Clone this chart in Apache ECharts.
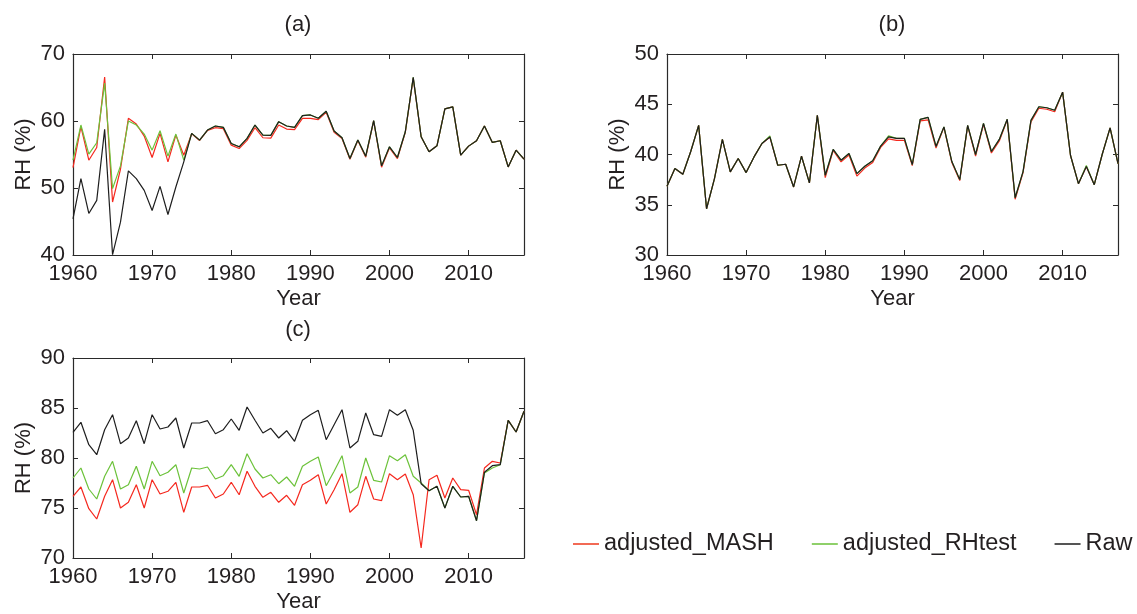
<!DOCTYPE html>
<html><head><meta charset="utf-8">
<script src="https://cdn.jsdelivr.net/npm/echarts@6/dist/echarts.min.js"></script>
<style>html,body{margin:0;padding:0;background:#fff}#c{width:1137px;height:614px}</style>
</head><body><div id="c"></div>
<script>
const years = [1960,1961,1962,1963,1964,1965,1966,1967,1968,1969,1970,1971,1972,1973,1974,1975,1976,1977,1978,1979,1980,1981,1982,1983,1984,1985,1986,1987,1988,1989,1990,1991,1992,1993,1994,1995,1996,1997,1998,1999,2000,2001,2002,2003,2004,2005,2006,2007,2008,2009,2010,2011,2012,2013,2014,2015,2016,2017];
const seriesNames = ['adjusted_MASH','adjusted_RHtest','Raw'];
const panelTitles = ['(a)','(b)','(c)'];

// Panel (a)
const masA = [53.05,59.15,54.15,56.05,66.55,47.9,52.8,60.4,59.55,57.75, 54.55,58.15,53.9,57.9,54.9,58.1,57.1,58.6,59.0,58.85, 56.4,55.9,57.1,59.0,57.5,57.45,59.4,58.8,58.7,60.4, 60.4,60.2,61.3,58.3,57.4,54.3,57.1,54.6,60.0,53.1, 56.0,54.4,58.3,66.4,57.65,55.4,56.3,61.8,62.1,54.9, 56.25,57.05,59.25,56.8,57.05,53.15,55.65,54.3];
const rhtA = [54.15,59.4,55.05,56.75,65.65,49.9,53.3,60.0,59.4,58.05, 55.65,58.55,54.75,58.05,54.15,58.15,57.15,58.65,59.25,59.05, 56.65,56.15,57.4,59.4,57.9,57.85,59.9,59.25,59.05,60.8, 60.9,60.4,61.45,58.5,57.5,54.4,57.15,54.75,60.05,53.3, 56.15,54.55,58.4,66.5,57.65,55.4,56.3,61.8,62.1,54.9, 56.25,57.05,59.25,56.8,57.05,53.15,55.65,54.3];
const rawA = [45.4,51.4,46.2,48.15,58.75,40.05,44.9,52.55,51.4,49.65, 46.65,50.25,46.05,50.15,53.9,58.15,57.15,58.65,59.25,59.05, 56.65,56.15,57.4,59.4,57.9,57.85,59.9,59.25,59.05,60.8, 60.9,60.4,61.45,58.5,57.5,54.4,57.15,54.75,60.05,53.3, 56.15,54.55,58.4,66.5,57.65,55.4,56.3,61.8,62.1,54.9, 56.25,57.05,59.25,56.8,57.05,53.15,55.65,54.3];

// Panel (b)
const masB = [36.84,38.6,38.04,40.3,42.9,34.6,37.6,41.5,38.27,39.6, 38.2,39.76,41.1,41.75,38.93,39.03,36.77,39.83,37.17,43.9, 37.7,40.4,39.27,39.95,37.85,38.65,39.2,40.7,41.55,41.4, 41.4,38.9,43.35,43.45,40.65,42.7,39.2,37.4,42.85,39.85, 43.0,40.15,41.35,43.45,35.55,38.2,43.25,44.6,44.5,44.25, 46.2,39.9,37.1,38.8,37.0,40.0,42.65,39.1];
const rhtB = [36.84,38.6,38.04,40.3,42.9,34.6,37.6,41.5,38.27,39.6, 38.2,39.76,41.1,41.85,38.93,39.03,36.77,39.83,37.17,43.9, 37.94,40.5,39.43,40.1,38.1,38.83,39.37,40.83,41.85,41.6, 41.6,39.0,43.5,43.7,40.8,42.75,39.3,37.5,42.9,40.0, 43.1,40.3,41.5,43.5,35.7,38.3,43.4,44.75,44.65,44.4, 46.2,39.9,37.1,38.9,37.0,40.0,42.65,39.1];
const rawB = [36.84,38.6,38.04,40.3,42.9,34.6,37.6,41.5,38.27,39.6, 38.2,39.76,41.1,41.75,38.93,39.03,36.77,39.83,37.17,43.9, 37.94,40.5,39.43,40.1,38.1,38.83,39.37,40.83,41.75,41.6, 41.6,39.0,43.5,43.7,40.8,42.75,39.3,37.5,42.9,40.0, 43.1,40.3,41.5,43.5,35.7,38.3,43.4,44.75,44.65,44.4, 46.2,39.9,37.1,38.8,37.0,40.0,42.65,39.1];

// Panel (c)
const masC = [76.17,77.1,74.93,73.9,76.17,77.83,75.0,75.57,77.33,75.0, 77.83,76.4,76.67,77.57,74.57,77.1,77.1,77.27,76.0,76.4, 77.57,76.33,78.67,77.17,76.07,76.57,75.57,76.27,75.27,77.33, 77.77,78.33,75.4,76.83,78.43,74.57,75.33,78.17,75.9,75.73, 78.43,77.83,78.4,76.33,71.0,77.83,78.27,76.0,78.0,76.83, 76.77,74.33,79.0,79.67,79.5,83.77,82.6,84.67];
const rhtC = [78.0,79.0,76.9,75.9,78.17,79.67,76.9,77.33,79.17,76.9, 79.67,78.23,78.57,79.33,76.5,79.0,78.9,79.1,77.9,78.23, 79.33,78.17,80.43,78.9,78.0,78.33,77.43,78.1,77.17,79.17, 79.67,80.1,77.23,78.67,80.23,76.5,77.1,80.0,77.77,77.6, 80.23,79.73,80.33,78.17,77.5,76.73,77.17,75.0,77.17,76.1, 76.17,73.73,78.5,79.0,79.33,83.77,82.6,84.67];
const rawC = [82.57,83.57,81.33,80.33,82.83,84.33,81.43,82.0,83.73,81.43, 84.33,82.9,83.1,84.0,81.0,83.5,83.5,83.73,82.43,82.83, 83.9,82.77,85.1,83.77,82.5,82.97,82.0,82.73,81.67,83.77, 84.33,84.77,81.83,83.33,84.83,81.0,81.67,84.5,82.33,82.17, 84.83,84.27,84.83,82.77,77.43,76.73,77.17,75.0,77.17,76.1, 76.17,73.73,78.57,79.23,79.33,83.77,82.6,84.67];

const yRanges = [[40,70,10],[30,50,5],[70,90,5]];
const xRange = [1960,2017,10];

const panels = [[masA,rhtA,rawA],[masB,rhtB,rawB],[masC,rhtC,rawC]];
const colors = ['#f5281e','#6cc23a','#1e1e1e'];
const legendColors = ['#f26a55','#8fd06a','#555555'];
const grids = [
  {left:73, top:54, width:451, height:201},
  {left:667, top:54, width:451, height:201},
  {left:73, top:358, width:451, height:201}
];
const FONT = 'Liberation Sans, Arial, sans-serif';
const TXT = '#231f20';
const AX = '#2a2a2a';

const xAxis = [], yAxis = [], series = [];
grids.forEach((g,i)=>{
  const common = {
    axisLine:{show:true,onZero:false,lineStyle:{color:AX,width:1.2}},
    axisTick:{show:true,inside:true,length:5,lineStyle:{color:AX,width:1}},
    splitLine:{show:false}
  };
  xAxis.push(Object.assign({}, common, {
    gridIndex:i, type:'value', position:'bottom', min:xRange[0], max:xRange[1], interval:xRange[2],
    name:'Year', nameLocation:'middle', nameGap:33,
    nameTextStyle:{fontSize:22,fontFamily:FONT,color:TXT},
    axisLabel:{fontSize:22,fontFamily:FONT,color:TXT,margin:8,showMaxLabel:false,
      formatter:v=> (v%10===0? String(v):'')}
  }));
  xAxis.push(Object.assign({}, common, {
    gridIndex:i, type:'value', position:'top', min:xRange[0], max:xRange[1], interval:xRange[2],
    axisLabel:{show:false}
  }));
  const yr = yRanges[i];
  yAxis.push(Object.assign({}, common, {
    gridIndex:i, type:'value', position:'left', min:yr[0], max:yr[1], interval:yr[2],
    name:'RH (%)', nameLocation:'middle', nameGap:38,
    nameTextStyle:{fontSize:22,fontFamily:FONT,color:TXT},
    axisLabel:{fontSize:22,fontFamily:FONT,color:TXT,margin:8}
  }));
  yAxis.push(Object.assign({}, common, {
    gridIndex:i, type:'value', position:'right', min:yr[0], max:yr[1], interval:yr[2],
    axisLabel:{show:false}
  }));
  panels[i].forEach((vals,k)=>{
    series.push({
      name:seriesNames[k], type:'line', xAxisIndex:2*i, yAxisIndex:2*i,
      data: years.map((y,j)=>[y, vals[j]]),
      symbol:'none', showSymbol:false, animation:false,
      lineStyle:{color:colors[k],width:1.2}, itemStyle:{color:colors[k]}, z:2+k
    });
  });
});

const graphic = [
  {type:'text', x:298, y:25, style:{text:panelTitles[0], font:'22px '+FONT, fill:TXT, textAlign:'center', textVerticalAlign:'middle'}},
  {type:'text', x:892, y:25, style:{text:panelTitles[1], font:'22px '+FONT, fill:TXT, textAlign:'center', textVerticalAlign:'middle'}},
  {type:'text', x:298, y:330, style:{text:panelTitles[2], font:'22px '+FONT, fill:TXT, textAlign:'center', textVerticalAlign:'middle'}}
];

const chart = echarts.init(document.getElementById('c'), null, {renderer:'canvas'});
chart.setOption({
  backgroundColor:'#fff',
  animation:false,
  grid:grids,
  xAxis, yAxis, series, graphic,
  legend:{
    data:seriesNames.map((n,k)=>({name:n, icon:'rect', itemStyle:{color:legendColors[k]}})),
    left:573, top:532, width:600, padding:0, itemWidth:26, itemHeight:2, itemGap:38,
    textStyle:{fontSize:23.5,fontFamily:FONT,color:TXT}
  }
});
</script></body></html>
